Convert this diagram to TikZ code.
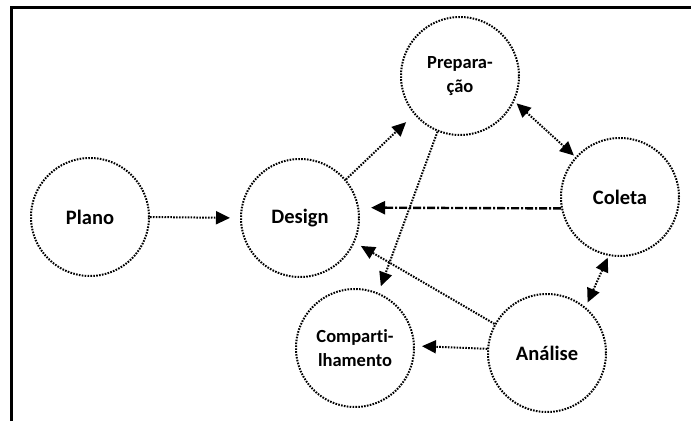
\documentclass[tikz,border=0pt]{standalone}
\usepackage{fontspec}
\setmainfont[Ligatures=NoCommon]{Carlito}
\usetikzlibrary{arrows.meta}
\begin{document}
\begin{tikzpicture}[x=1pt,y=1pt,
  stage/.style={circle,minimum size=118pt,inner sep=0pt,line width=2pt,
    dash pattern=on 1.6pt off 1.3pt,draw=black,font=\fontsize{20.5}{23}\selectfont\bfseries,align=center},
  stagesmall/.style={stage,font=\fontsize{18.5}{23.5}\selectfont\bfseries},
  flow/.style={line width=2pt,dash pattern=on 1.6pt off 1.3pt,draw=black,
    -{Triangle[length=14pt,width=13pt]}},
  bothflow/.style={flow,{Triangle[length=14pt,width=13pt]}-{Triangle[length=14pt,width=13pt]}},
  feedback/.style={line width=2.4pt,dash pattern=on 8pt off 2pt on 2pt off 2pt,draw=black,
    -{Triangle[length=14pt,width=13pt]}},
  frameline/.style={line width=3pt,draw=black}]
\useasboundingbox (0,0) rectangle (691,421);
\draw[frameline] (11.5,0) -- (11.5,413.5) -- (691,413.5);
\node[stage] (plano) at (90,204) {Plano};
\node[stage] (design) at (300,203) {Design};
\node[stagesmall] (prep) at (460,345) {Prepara-\\ção};
\node[stage] (coleta) at (620,224) {Coleta};
\node[stagesmall] (compart) at (355,73) {Comparti-\\lhamento};
\node[stage] (analise) at (547,68) {Análise};
\draw[flow,shorten >=10pt] (plano.east) -- (design.west);
\draw[flow,shorten >=11pt] (design.40) -- (prep.220);
\draw[bothflow,shorten >=2pt,shorten <=3pt] (prep.-25) -- (coleta.138);
\draw[feedback,shorten >=12pt] (coleta.191) -- (design.10);
\draw[flow,shorten >=7pt] (prep.248) -- (compart.67);
\draw[flow,shorten >=7pt] (analise.151) -- (design.-24);
\draw[flow,shorten >=7pt] (analise.176) -- (compart.2);
\draw[bothflow,shorten >=5pt,shorten <=2pt] (coleta.259) -- (analise.50);
\end{tikzpicture}
\end{document}
